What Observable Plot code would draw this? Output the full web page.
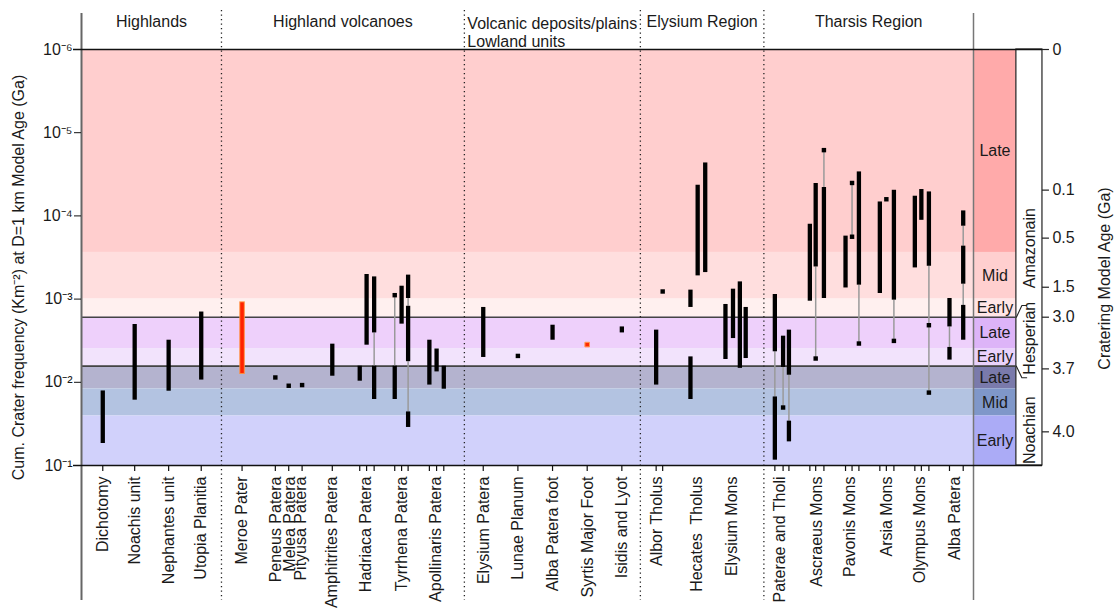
<!DOCTYPE html>
<html><head><meta charset="utf-8">
<script src="https://cdn.jsdelivr.net/npm/d3@7"></script>
<script src="https://cdn.jsdelivr.net/npm/@observablehq/plot@0.6"></script>
<style>
html,body{margin:0;padding:0;background:#fff;}
</style>
</head><body><div id="chart"></div>
<script>
// ---------- data ----------
const categories = ["Dichotomy","Noachis unit","Nephantes unit","Utopia Planitia","Meroe Pater",
  "Peneus Patera","Melea Patera","Pityusa Patera","Amphitrites Patera","Hadriaca Patera","Tyrrhena Patera",
  "Apollinaris Patera","Elysium Patera","Lunae Planum","Alba Patera foot","Syrtis Major Foot","Isidis and Lyot",
  "Albor Tholus","Hecates  Tholus","Elysium Mons","Paterae and Tholi","Ascraeus Mons","Pavonis Mons",
  "Arsia Mons","Olympus Mons","Alba Patera"];
const labelPositions = [0.62,1.55,2.54,3.49,4.68,5.68,6.06,6.40,7.31,8.28,9.35,10.32,11.72,12.72,13.73,
  14.77,15.76,16.78,17.95,18.97,20.37,21.44,22.41,23.48,24.45,25.47];
const untickedCategories = ["Hecates  Tholus","Elysium Mons"];

const groupNames = ["Highlands","Highland volcanoes","Volcanic deposits/plains\nLowland units","Elysium Region","Tharsis Region"];
const groupBounds = [0, 4.08, 11.16, 16.29, 19.89, 26];

// [category index, position, top frequency, bottom frequency]
const barSegments = [
  [0,0.62,1.27e-2,5.44e-2],[1,1.55,2.02e-3,1.64e-2],[2,2.54,3.12e-3,1.28e-2],[3,3.49,1.43e-3,9.4e-3],
  [8,7.31,3.48e-3,8.45e-3],
  [9,8.11,6.4e-3,9.7e-3],[9,8.31,5.06e-4,3.58e-3],[9,8.53,5.41e-4,2.55e-3],[9,8.53,6.4e-3,1.61e-2],
  [10,9.13,6.4e-3,1.61e-2],[10,9.33,7.0e-4,2.0e-3],[10,9.52,5.15e-4,9.84e-4],[10,9.52,1.22e-3,5.65e-3],[10,9.52,2.27e-2,3.49e-2],
  [11,10.14,3.12e-3,1.08e-2],[11,10.35,3.98e-3,7.5e-3],[11,10.56,6.4e-3,1.21e-2],
  [12,11.71,1.26e-3,5.03e-3],[14,13.73,2.06e-3,3.12e-3],[16,15.75,2.16e-3,2.55e-3],
  [17,16.75,2.36e-3,1.08e-2],
  [18,17.75,7.8e-4,1.26e-3],[18,17.75,4.95e-3,1.61e-2],[18,17.96,4.28e-5,5.26e-4],[18,18.18,2.31e-5,4.8e-4],
  [19,18.77,1.16e-3,5.32e-3],[19,18.99,7.6e-4,2.98e-3],[19,19.19,6.21e-4,6.8e-3],[19,19.36,1.26e-3,5.18e-3],
  [20,20.21,8.81e-4,4.3e-3],[20,20.21,1.5e-2,8.63e-2],[20,20.45,2.79e-3,6.63e-3],[20,20.62,2.36e-3,8.22e-3],[20,20.62,2.93e-2,5.2e-2],
  [21,21.23,1.26e-4,1.06e-3],[21,21.40,4.08e-5,4.11e-4],[21,21.64,4.56e-5,9.84e-4],
  [22,22.27,1.75e-4,7.35e-4],[22,22.66,2.96e-5,6.8e-4],
  [23,23.27,6.8e-5,8.57e-4],[23,23.68,4.92e-5,1.03e-3],
  [24,24.29,5.8e-5,4.22e-4],[24,24.48,4.82e-5,1.13e-4],[24,24.70,5.15e-5,4.03e-4],
  [25,25.30,9.84e-4,2.16e-3],[25,25.30,3.81e-3,5.41e-3],[25,25.70,8.71e-5,1.33e-4],[25,25.70,2.31e-4,6.62e-4],[25,25.70,1.19e-3,3.12e-3]
];
// grey connectors [category index, position, top, bottom]
const linkSegments = [
  [9,8.53,2.55e-3,6.4e-3],[10,9.13,8.97e-4,6.4e-3],[10,9.52,9.84e-4,1.22e-3],[10,9.52,5.65e-3,2.27e-2],
  [20,20.21,4.3e-3,1.5e-2],[20,20.45,6.63e-3,2.01e-2],[20,20.62,8.22e-3,2.93e-2],
  [21,21.40,4.11e-4,5.18e-3],[21,21.64,1.62e-5,4.56e-5],
  [22,22.46,4.02e-5,1.78e-4],[22,22.66,6.8e-4,3.42e-3],
  [23,23.68,1.03e-3,3.18e-3],[24,24.70,4.03e-4,1.33e-2],
  [25,25.30,2.16e-3,3.81e-3],[25,25.70,1.33e-4,2.31e-4],[25,25.70,6.62e-4,1.19e-3]
];
// single values [category index, position, frequency]
const pointValues = [
  [5,5.65,8.75e-3],[6,6.04,1.1e-2],[7,6.43,1.08e-2],[10,9.13,8.97e-4],[13,12.72,4.82e-3],[17,16.94,8.1e-4],
  [20,20.45,2.01e-2],[21,21.40,5.18e-3],[21,21.64,1.62e-5],[22,22.46,4.02e-5],[22,22.46,1.78e-4],[22,22.66,3.42e-3],
  [23,23.46,6.31e-5],[23,23.68,3.18e-3],[24,24.70,2.06e-3],[24,24.70,1.33e-2]
];
const highlightBars = [[4,4.68,1.08e-3,8.05e-3]];
const highlightPoints = [[15,14.74,3.52e-3]];

const periodNames = ["Late","Mid","Early","Late","Early","Late","Mid","Early"];
const periodLimits = [1e-6,2.75e-4,1e-3,1.65e-3,3.93e-3,6.4e-3,1.2e-2,2.54e-2,1e-1];
const plotColors = ["#ffcece","#ffdede","#fff0ef","#eed0fb","#f2e3fc","#b4b3cf","#b3c3e1","#d1d1fb"];
const columnColors = ["#ffaaaa","#ffcfcf","#ffe6e6","#ddb4f8","#e9d2fb","#7a7aab","#7f97c9","#ababf6"];

const eraNames = ["Amazonain","Hesperian","Noachian"];
const eraLabelAt = [2.44e-4,2.95e-3,3.77e-2];
const eraBoundaries = [1.65e-3,6.4e-3];

const ageLabels = ["0","0.1","0.5","1.5","3.0","3.7","4.0"];
const ageTickFreq = [1e-6,4.9e-5,1.85e-4,7.2e-4,1.65e-3,6.9e-3,3.94e-2];
const freqTicks = [1e-6,1e-5,1e-4,1e-3,1e-2,1e-1];

// ---------- layout helpers ----------
const colLeft = 26, colRight = 27.25, boxRight = 28.01;
const sup = {"-":"⁻","0":"⁰","1":"¹","2":"²","3":"³","4":"⁴","5":"⁵","6":"⁶","7":"⁷","8":"⁸","9":"⁹"};
const fmtPow = d => "10" + String(Math.round(Math.log10(d))).split("").map(c => sup[c]).join("");

const periods = periodNames.map((name, i) => ({name, top: periodLimits[i], bottom: periodLimits[i+1],
  light: plotColors[i], dark: columnColors[i], mid: Math.sqrt(periodLimits[i]*periodLimits[i+1])}));
const toObj = a => a.length === 4 ? {c: a[0], x: a[1], y1: a[2], y2: a[3]} : {c: a[0], x: a[1], y: a[2]};
const bars = barSegments.map(toObj), links = linkSegments.map(toObj), pts = pointValues.map(toObj);
const hBars = highlightBars.map(toObj), hPts = highlightPoints.map(toObj);
const tickXs = Array.from(new Set([...bars, ...pts, ...hBars, ...hPts]
  .filter(d => !untickedCategories.includes(categories[d.c])).map(d => d.x)));
const groups = groupNames.map((name, i) => ({name, a: groupBounds[i], b: groupBounds[i+1]}));
const brackets = eraBoundaries.map((b, i) => {
  const f = Math.pow(10, i === 0 ? -0.14 : 0.14);
  return [{x: colRight, y: b}, {x: colRight + 0.16, y: b * f}, {x: colRight + 0.3, y: b * f}];
});

const font = "'Liberation Sans', Arial, Helvetica, sans-serif";
const txt = "#1a1a1a";

const chart = Plot.plot({
  width: 1114, height: 608,
  marginLeft: 81, marginRight: 141, marginTop: 49, marginBottom: 143,
  style: {fontFamily: font, fontSize: "16px", background: "#fff", color: txt},
  x: {type: "linear", domain: [0, 26], axis: null},
  y: {type: "log", domain: [1e-6, 1e-1], reverse: true},
  marks: [
    // background period bands
    Plot.rect(periods, {x1: 0, x2: colLeft, y1: "top", y2: "bottom", fill: "light"}),
    Plot.rect(periods, {x1: colLeft, x2: colRight, y1: "top", y2: "bottom", fill: "dark"}),
    Plot.text(periods, {x: (colLeft + colRight) / 2, y: "mid", text: "name", fill: txt, fontSize: 16}),
    // era label box
    Plot.rect([0], {x1: colRight, x2: boxRight, y1: 1e-6, y2: 1e-1, fill: "#fff", stroke: "#222", strokeWidth: 1.2}),
    Plot.text(eraNames, {x: (colRight + boxRight) / 2, y: (d, i) => eraLabelAt[i], text: d => d, rotate: -90, fill: txt, fontSize: 16}),
    ...brackets.map(b => Plot.line(b, {x: "x", y: "y", stroke: "#222", strokeWidth: 1.1})),
    // era boundary lines
    Plot.ruleY(eraBoundaries, {x1: 0, x2: colRight, stroke: "#444", strokeWidth: 1.6}),
    // group separators
    Plot.ruleX(groupBounds.slice(1, -1), {insetTop: -39, insetBottom: -135, stroke: "#222", strokeWidth: 1.3, strokeDasharray: "1.3,3.2"}),
    // frame lines
    Plot.ruleX([0], {insetTop: -36, insetBottom: -135, stroke: "#666", strokeWidth: 2}),
    Plot.ruleX([colLeft], {insetTop: -36, insetBottom: -135, stroke: "#777", strokeWidth: 1.5}),
    Plot.ruleY([1e-6, 1e-1], {x1: 0, x2: boxRight, insetLeft: -8, stroke: "#111", strokeWidth: 1.6}),
    // left axis
    Plot.axisY(freqTicks, {anchor: "left", tickSize: 7, tickPadding: 2, tickFormat: fmtPow, fontSize: 16, stroke: "#111", label: null}),
    Plot.text(["Cum. Crater frequency (Km⁻²) at D=1 km Model Age (Ga)"], {frameAnchor: "left", textAnchor: "middle", dx: -63, dy: 20, rotate: -90, fill: txt, fontSize: 16}),
    // right age axis
    Plot.ruleY(ageTickFreq, {x1: boxRight, x2: boxRight, insetRight: -7, stroke: "#222", strokeWidth: 1.2}),
    Plot.text(ageTickFreq, {x: boxRight, y: d => d, text: (d, i) => ageLabels[i], dx: 10, textAnchor: "start", fill: txt, fontSize: 16}),
    Plot.text(["Cratering Model Age (Ga)"], {frameAnchor: "right", textAnchor: "middle", dx: 131, dy: 21, rotate: -90, fill: txt, fontSize: 16}),
    // header group labels
    Plot.text(groups.filter(g => !g.name.includes("\n")), {x: g => (g.a + g.b) / 2, text: "name", frameAnchor: "top", dy: -34, lineAnchor: "top", fill: txt, fontSize: 16}),
    Plot.text(groups.filter(g => g.name.includes("\n")), {x: "a", text: "name", frameAnchor: "top", dy: -34, dx: 3, lineAnchor: "top", lineHeight: 1.15, textAnchor: "start", fill: txt, fontSize: 16}),
    // category ticks and labels
    Plot.ruleX(tickXs, {y1: 1e-1, y2: 1e-1, insetBottom: -6, stroke: "#111", strokeWidth: 1.2}),
    Plot.text(categories, {x: (d, i) => labelPositions[i], y: 1e-1, dy: 11, text: d => d, rotate: -90, textAnchor: "end", fill: txt, fontSize: 16}),
    // data
    Plot.ruleX(links, {x: "x", y1: "y1", y2: "y2", stroke: "#9a9a9a", strokeWidth: 1.5}),
    Plot.ruleX(bars, {x: "x", y1: "y1", y2: "y2", stroke: "#000", strokeWidth: 4.3}),
    Plot.dot(pts, {x: "x", y: "y", symbol: "square", r: 2.5, fill: "#000"}),
    Plot.ruleX(hBars, {x: "x", y1: "y1", y2: "y2", stroke: "#ff8a3a", strokeWidth: 5.5}),
    Plot.ruleX(hBars, {x: "x", y1: "y1", y2: "y2", stroke: "#ff2200", strokeWidth: 3.5, insetTop: 1, insetBottom: 1}),
    Plot.dot(hPts, {x: "x", y: "y", symbol: "square", r: 2.6, fill: "#ff2a00", stroke: "#ff9a50", strokeWidth: 1})
  ]
});
document.getElementById("chart").appendChild(chart);
</script>
</body></html>
